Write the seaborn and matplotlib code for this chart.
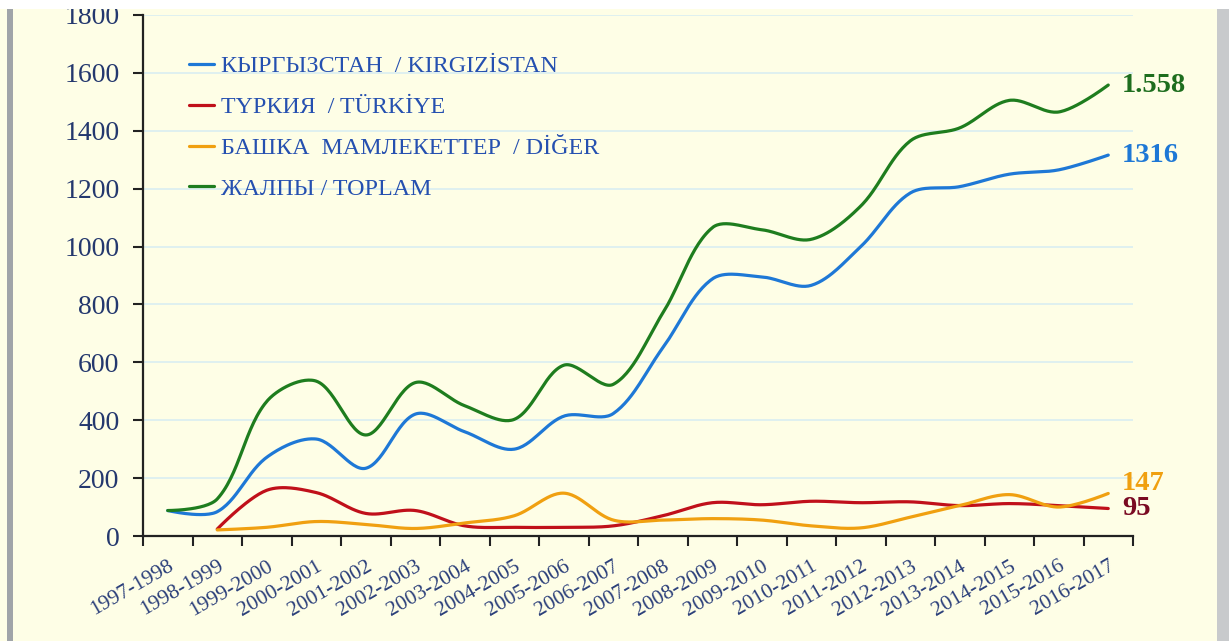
import numpy as np
import pandas as pd
import matplotlib
matplotlib.use("Agg")
import matplotlib.pyplot as plt
import seaborn as sns
from matplotlib.patches import Rectangle

# --- data ---
seasons = ['1997-1998', '1998-1999', '1999-2000', '2000-2001', '2001-2002',
           '2002-2003', '2003-2004', '2004-2005', '2005-2006', '2006-2007',
           '2007-2008', '2008-2009', '2009-2010', '2010-2011', '2011-2012',
           '2012-2013', '2013-2014', '2014-2015', '2015-2016', '2016-2017']
kyrgyzstan = [88, 84, 272, 335, 234, 421, 360, 300, 414, 423,
              650, 888, 895, 866, 1000, 1185, 1207, 1250, 1265, 1316]
turkey = [np.nan, 24, 158, 150, 78, 88, 35, 30, 30, 35,
          70, 115, 108, 120, 115, 118, 105, 112, 105, 95]
other = [np.nan, 21, 30, 50, 40, 26, 45, 70, 148, 55,
         55, 60, 55, 35, 28, 65, 105, 143, 100, 147]
total = [88, 128, 465, 535, 349, 530, 450, 403, 590, 524,
         770, 1065, 1058, 1025, 1140, 1365, 1410, 1505, 1465, 1558]

labels = ['КЫРГЫЗСТАН  / KIRGIZİSTAN', 'ТҮРКИЯ  / TÜRKİYE',
          'БАШКА  МАМЛЕКЕТТЕР  / DİĞER', 'ЖАЛПЫ / TOPLAM']
end_labels = ['1316', '95', '147', '1.558']
colors = ['#1E78D6', '#C0101A', '#F0A010', '#1E7D1E']
label_colors = ['#1E78D6', '#7A0A22', '#F0A010', '#1E6E1E']


def smooth(xs, ys, n=30, sx=49.5, sy=521 / 1800):
    # Excel-like smoothed line: cubic Bezier, control points scaled by
    # the on-screen length of the neighbouring segments
    xs = np.asarray(xs, float)
    ys = np.asarray(ys, float)
    ok = ~np.isnan(ys)
    P = np.column_stack([xs[ok] * sx, ys[ok] * sy])
    k = len(P)
    cin, cout = P.copy(), P.copy()
    for i in range(1, k - 1):
        v = P[i + 1] - P[i - 1]
        d1 = np.hypot(*(P[i] - P[i - 1]))
        d2 = np.hypot(*(P[i + 1] - P[i]))
        cin[i] = P[i] - v * d1 / (d1 + d2) / 3
        cout[i] = P[i] + v * d2 / (d1 + d2) / 3
    t = np.linspace(0, 1, n, endpoint=False)[:, None]
    segs = []
    for i in range(k - 1):
        segs.append((1 - t)**3 * P[i] + 3 * (1 - t)**2 * t * cout[i]
                    + 3 * (1 - t) * t**2 * cin[i + 1] + t**3 * P[i + 1])
    segs.append(P[-1:])
    out = np.vstack(segs)
    return out[:, 0] / sx, out[:, 1] / sy


sns.set_theme(style="white")
plt.rcParams['font.family'] = ['Liberation Serif', 'DejaVu Serif']

bg = '#FEFEE6'
fig = plt.figure(figsize=(12.29, 6.41), dpi=100, facecolor=bg)
ax = fig.add_axes([143/1229, 105/641, 990/1229, 521/641])
ax.set_facecolor(bg)

# frame decorations of the screenshot
fig.patches.append(Rectangle((0, 632/641), 1, 9/641, transform=fig.transFigure,
                             facecolor='white', edgecolor='none'))
fig.patches.append(Rectangle((7/1229, 0), 6/1229, 632/641, transform=fig.transFigure,
                             facecolor='#A0A4A8', edgecolor='none'))
fig.patches.append(Rectangle((1217/1229, 0), 12/1229, 632/641, transform=fig.transFigure,
                             facecolor='#C8CACC', edgecolor='none'))

pos = np.arange(len(seasons))
frames = []
for name, vals in zip(labels, [kyrgyzstan, turkey, other, total]):
    sx, sy = smooth(pos, vals)
    frames.append(pd.DataFrame({'x': sx, 'y': sy, 'series': name}))
df = pd.concat(frames, ignore_index=True)

sns.lineplot(data=df, x='x', y='y', hue='series', hue_order=labels,
             palette=dict(zip(labels, colors)), sort=False, estimator=None,
             linewidth=2.3, ax=ax)

# end-of-line value labels
offsets = [0, 0, 7, 0]
for vals, txt, col, dy in zip([kyrgyzstan, turkey, other, total], end_labels,
                              label_colors, offsets):
    ax.annotate(txt, (pos[-1], vals[-1]), xytext=(10, dy), textcoords='offset points',
                va='center', ha='left', fontsize=20.5, fontweight='bold', color=col,
                annotation_clip=False)

ax.set_xlim(-0.5, len(seasons) - 0.5)
ax.set_ylim(0, 1800)
ax.set_yticks(range(0, 1801, 200))
ax.set_xticks(pos)
ax.set_xticklabels(seasons, rotation=30, ha='right', rotation_mode='anchor',
                   fontsize=15.5, color='#2B3F7A')
ax.set_xticks(np.arange(-0.5, len(seasons)), minor=True)
ax.tick_params(axis='x', which='major', length=0, pad=15)
ax.tick_params(axis='x', which='minor', length=7, width=1.5, color='#222222',
               direction='out', bottom=True)
ax.tick_params(axis='y', length=7, width=1.5, color='#222222', direction='out',
               labelsize=20, labelcolor='#24386E', pad=10, left=True)
ax.set_xlabel('')
ax.set_ylabel('')
ax.grid(axis='y', color='#D6EDF2', linewidth=1.1)
ax.set_axisbelow(True)
sns.despine(ax=ax)
for s in ['left', 'bottom']:
    ax.spines[s].set_color('#222222')
    ax.spines[s].set_linewidth(1.6)

handles, lbls = ax.get_legend_handles_labels()
ax.legend(handles, lbls, loc='upper left', bbox_to_anchor=(0.046, 0.922),
          frameon=False, fontsize=17.3, labelcolor='#2550B0', handlelength=1.04,
          handletextpad=0.3, labelspacing=0.79, borderaxespad=0, borderpad=0)

fig.savefig('out.png', dpi=100, facecolor=bg)
